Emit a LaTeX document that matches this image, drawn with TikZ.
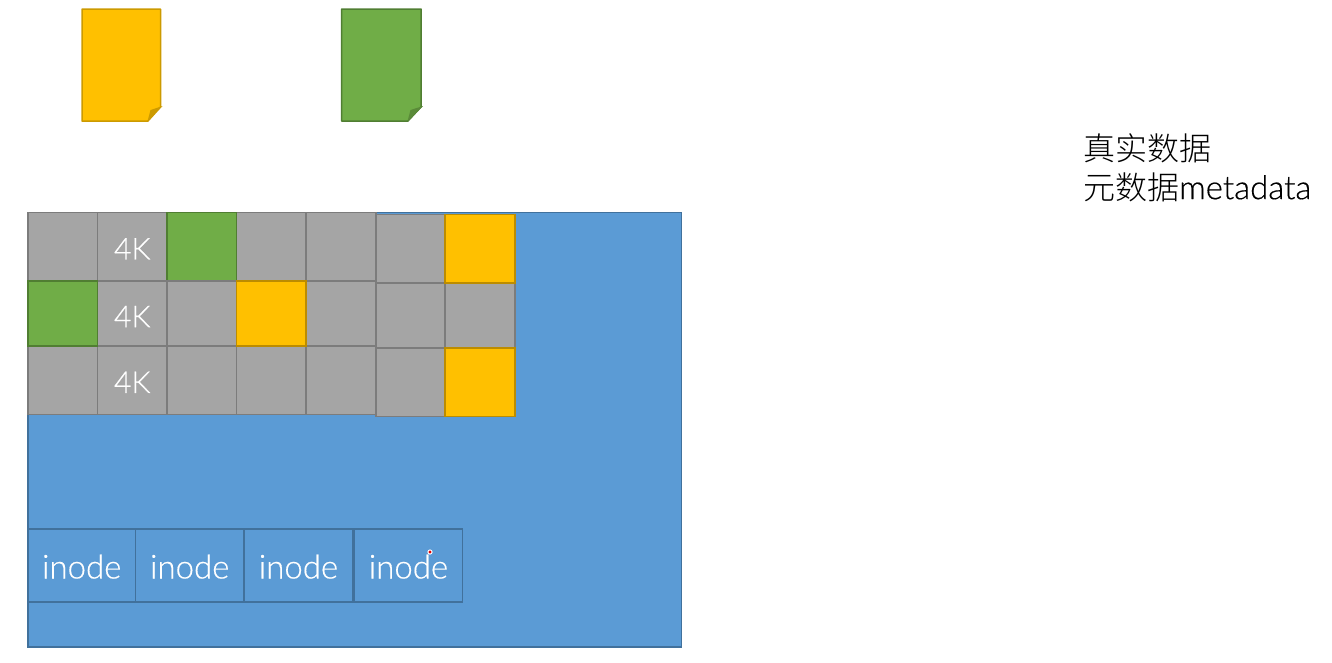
\documentclass[tikz,border=0pt]{standalone}
\usepackage{fontspec}
\setmainfont{Lato}[UprightFont=* Light,FakeBold=0.4]
\newfontfamily\cjk{Noto Sans CJK SC}[UprightFont=* Light]
\definecolor{bluef}{HTML}{5B9BD5}
\definecolor{blued}{HTML}{41719C}
\definecolor{grayf}{HTML}{A5A5A5}
\definecolor{grayd}{HTML}{7C7C7C}
\definecolor{yellowf}{HTML}{FFC000}
\definecolor{yellowd}{HTML}{BC8C00}
\definecolor{yellowm}{HTML}{CC9A00}
\definecolor{greenf}{HTML}{70AD47}
\definecolor{greend}{HTML}{507E32}
\definecolor{greenm}{HTML}{5A8A39}
\tikzset{
  x=1pt,y=-1pt,
  box/.style={anchor=north west,inner sep=0pt,outer sep=0pt,line width=1.5pt,text=white,font=\fontsize{30}{30}\selectfont},
  graycell/.style={box,draw=grayd,fill=grayf},
  kcell/.style={graycell,text height=25.4pt,text depth=0pt},
  kcelllow/.style={graycell,text height=27.4pt,text depth=0pt},
  yellowcell/.style={box,draw=yellowd,fill=yellowf},
  greencell/.style={box,draw=greend,fill=greenf},
  inodecell/.style={box,draw=blued,fill=bluef,font=\fontsize{33}{33}\selectfont,text height=26pt,text depth=0pt},
  disk/.style={box,draw=blued,fill=bluef},
  lbl/.style={anchor=west,inner sep=0pt,text=black,font=\fontsize{32}{32}\selectfont},
}
\newcommand{\cellat}[7]{\node[#6,minimum width=#4pt-#2pt,minimum height=#5pt-#3pt] (#1) at (#2,#3) {#7};}
\begin{document}
\begin{tikzpicture}
\useasboundingbox (0,0) rectangle (1332,662);
% documents
\path[draw=yellowm,fill=yellowf,line width=1.5pt,line join=round] (82,9) -- (160.5,9) -- (160.5,107) -- (148,121) -- (82,121) -- cycle;
\path[fill=yellowm] (147.5,121.5) -- (150.5,110) -- (162.5,106) -- cycle;
\path[draw=greend,fill=greenf,line width=1.5pt,line join=round] (341.5,9) -- (421,9) -- (421,107) -- (408,121) -- (341.5,121) -- cycle;
\path[fill=greenm] (407.5,121.5) -- (410.5,110) -- (423,106) -- cycle;
% disk
\cellat{disk}{28}{212.5}{681.5}{647}{disk}{}
% first five columns
\cellat{a1}{28}{212.5}{97.5}{281}{graycell}{}
\cellat{a2}{97.5}{212.5}{167}{281}{kcell}{4K}
\cellat{a4}{236.5}{212.5}{306}{281}{graycell}{}
\cellat{a5}{306}{212.5}{376}{281}{graycell}{}
\cellat{a3}{167}{212.5}{236.5}{281}{greencell}{}
\cellat{b2}{97.5}{281}{167}{346}{kcelllow}{4K}
\cellat{b3}{167}{281}{236.5}{346}{graycell}{}
\cellat{b5}{306}{281}{376}{346}{graycell}{}
\cellat{c1}{28}{346}{97.5}{414.5}{graycell}{}
\cellat{c2}{97.5}{346}{167}{414.5}{kcell}{4K}
\cellat{c3}{167}{346}{236.5}{414.5}{graycell}{}
\cellat{c4}{236.5}{346}{306}{414.5}{graycell}{}
\cellat{c5}{306}{346}{376}{414.5}{graycell}{}
\cellat{b1}{28}{281}{97.5}{346}{greencell}{}
\cellat{b4}{236.5}{281}{306}{346}{yellowcell}{}
% last two columns
\cellat{a6}{376}{214.5}{445}{283}{graycell}{}
\cellat{b6}{376}{283}{445}{348}{graycell}{}
\cellat{c6}{376}{348}{445}{416.5}{graycell}{}
\cellat{b7}{445}{283}{515}{348}{graycell}{}
\cellat{a7}{445}{214.5}{515}{283}{yellowcell}{}
\cellat{c7}{445}{348}{515}{416.5}{yellowcell}{}
% inodes
\cellat{i1}{28}{529}{135.5}{602}{inodecell}{inode}
\cellat{i2}{135.5}{529}{244}{602}{inodecell}{inode}
\cellat{i3}{244}{529}{353}{602}{inodecell}{inode}
\cellat{i4}{354.5}{529}{462.5}{602}{inodecell}{inode}
\fill[white] (430,552) circle (2.6);
\fill[red!90!black] (430,552) circle (1.6);
% labels
\node[lbl] (t1) at (1083,148) {\cjk 真实数据};
\node[lbl] (t2) at (1083,187) {{\cjk 元数据}\addfontfeature{Scale=1.03}metadata};
\end{tikzpicture}
\end{document}
